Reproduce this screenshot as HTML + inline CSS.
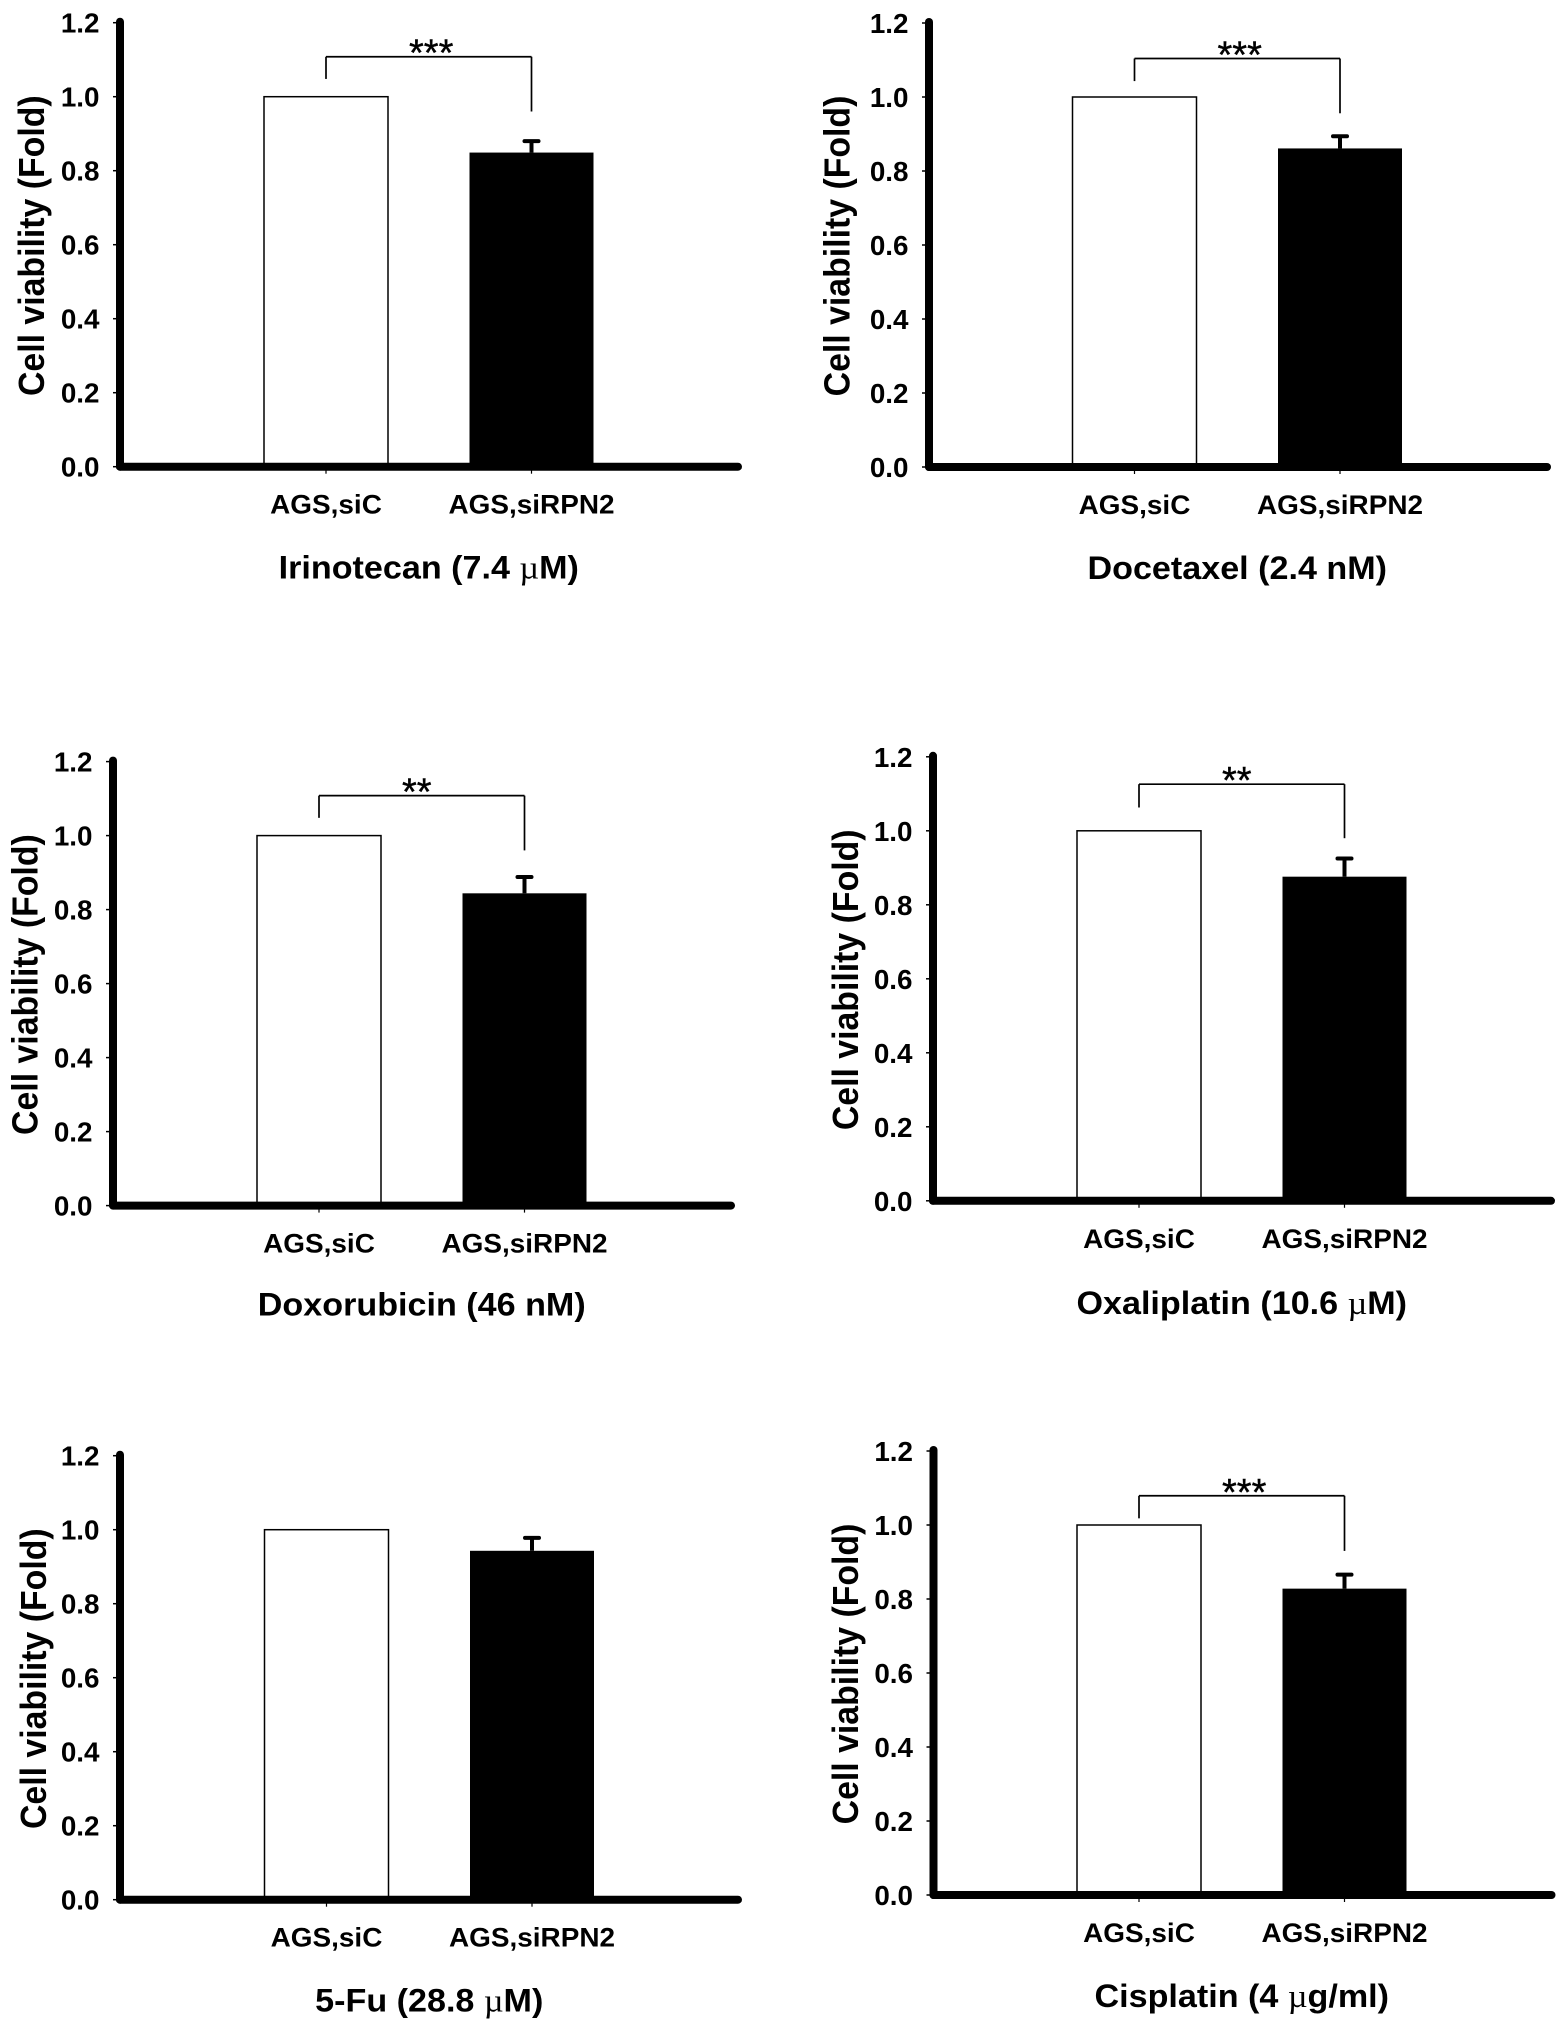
<!DOCTYPE html>
<html lang="en">
<head>
<meta charset="utf-8">
<title>Cell viability by drug treatment</title>
<style>
html,body{margin:0;padding:0;background:#fff;width:1567px;height:2031px;overflow:hidden}
svg{display:block}
text{font-family:"Liberation Sans",sans-serif;fill:#000}
</style>
</head>
<body>
<svg id="figure" xmlns="http://www.w3.org/2000/svg" width="1567" height="2031" viewBox="0 0 1567 2031"></svg>
<script>
var categories = ['AGS,siC', 'AGS,siRPN2'];
var drugNames = ['Irinotecan (7.4 ', 'Docetaxel (2.4 nM)', 'Doxorubicin (46 nM)', 'Oxaliplatin (10.6 ', '5-Fu (28.8 ', 'Cisplatin (4 '];
var drugUnits = ['M)', '', '', 'M)', 'M)', 'g/ml)'];
var controlValues = [1, 1, 1, 1, 1, 1];
var treatedValues = [0.849, 0.861, 0.844, 0.876, 0.943, 0.828];
var treatedErrors = [0.031, 0.033, 0.044, 0.049, 0.035, 0.038];
var significance = ['***', '***', '**', '**', '', '***'];
var bracketTopValues = [1.108, 1.104, 1.108, 1.126, 0, 1.079];
var bracketLeftValues = [1.048, 1.043, 1.048, 1.063, 0, 1.018];
var bracketRightValues = [0.96, 0.956, 0.96, 0.98, 0, 0.93];
var tickValues = [0, 0.2, 0.4, 0.6, 0.8, 1.0, 1.2];
var tickLabels = ['0.0', '0.2', '0.4', '0.6', '0.8', '1.0', '1.2'];

var panelAxisX = [120, 929, 113, 933, 120, 933.5];
var panelBaseY = [466.7, 467, 1205.6, 1200.8, 1899.7, 1895];
var panelFirstBarX = [326, 1134.5, 319, 1139, 326.5, 1139];
var panelYLabelOffset = [76, 79.5, 75.5, 75, 74, 75.5];
var panelTitleOffset = [112, 112, 110, 113, 112, 112];
var pixelsPerUnit = 370;
var barSpacing = 205.5;
var barWidth = 124;

var svg = document.getElementById('figure');
var NS = 'http://www.w3.org/2000/svg';

function make(tag, parent) {
  var el = document.createElementNS(NS, tag);
  parent.appendChild(el);
  return el;
}
function place(el, x1, y1, x2, y2, width) {
  el.setAttribute('x1', x1);
  el.setAttribute('y1', y1);
  el.setAttribute('x2', x2);
  el.setAttribute('y2', y2);
  el.setAttribute('stroke', '#000');
  el.setAttribute('stroke-width', width);
}

drugNames.forEach(function (name, p) {
  var axisX = panelAxisX[p];
  var baseY = panelBaseY[p];
  function yScale(v) { return baseY - v * pixelsPerUnit; }
  function xScale(c) { return panelFirstBarX[p] + c * barSpacing; }

  var g = make('g', svg);
  
  

  var controlTop = yScale(controlValues[p]);
  var controlBar = make('rect', g);
  
  
  controlBar.setAttribute('x', xScale(0) - barWidth / 2);
  controlBar.setAttribute('y', controlTop);
  controlBar.setAttribute('width', barWidth);
  controlBar.setAttribute('height', baseY - controlTop);
  controlBar.setAttribute('fill', '#fff');
  controlBar.setAttribute('stroke', '#000');
  controlBar.setAttribute('stroke-width', 1.5);

  var treatedTop = yScale(treatedValues[p]);
  var treatedBar = make('rect', g);
  
  
  treatedBar.setAttribute('x', xScale(1) - barWidth / 2);
  treatedBar.setAttribute('y', treatedTop);
  treatedBar.setAttribute('width', barWidth);
  treatedBar.setAttribute('height', baseY - treatedTop);
  treatedBar.setAttribute('fill', '#000');

  var errorTop = yScale(treatedValues[p] + treatedErrors[p]);
  var errorStem = make('line', g);
  
  
  place(errorStem, xScale(1), treatedTop, xScale(1), errorTop, 4);
  var errorCap = make('line', g);
  
  
  place(errorCap, xScale(1) - 7, errorTop, xScale(1) + 7, errorTop, 4);
  errorCap.setAttribute('stroke-linecap', 'round');

  var yAxis = make('line', g);
  
  
  place(yAxis, axisX, yScale(1.2) - 1, axisX, baseY, 8);
  yAxis.setAttribute('stroke-linecap', 'round');
  var xAxis = make('line', g);
  
  
  place(xAxis, axisX, baseY, axisX + 618, baseY, 8);
  xAxis.setAttribute('stroke-linecap', 'round');

  tickValues.forEach(function (v, i) {
    var tick = make('line', g);
    
    
    place(tick, axisX - 7, yScale(v), axisX, yScale(v), 1.5);
    var label = make('text', g);
    
    
    label.setAttribute('x', axisX - 20.5);
    label.setAttribute('y', yScale(v) + 10);
    label.setAttribute('text-anchor', 'end');
    label.setAttribute('font-weight', 'bold');
    label.setAttribute('font-size', '27.8');
    label.textContent = tickLabels[i];
  });

  categories.forEach(function (c, i) {
    var tick = make('line', g);
    
    
    place(tick, xScale(i), baseY, xScale(i), baseY + 7, 1.2);
    var label = make('text', g);
    
    
    label.setAttribute('transform', 'translate(' + xScale(i) + ',' + (baseY + 47) + ') scale(1.05,1)');
    label.setAttribute('text-anchor', 'middle');
    label.setAttribute('font-weight', 'bold');
    label.setAttribute('font-size', '26.6');
    label.textContent = c;
  });

  var yTitle = make('text', g);
  
  
  yTitle.setAttribute('transform', 'translate(' + (axisX - panelYLabelOffset[p]) + ',' + (baseY - 221) + ') rotate(-90) scale(0.94,1)');
  yTitle.setAttribute('text-anchor', 'middle');
  yTitle.setAttribute('font-weight', 'bold');
  yTitle.setAttribute('font-size', '36');
  yTitle.textContent = 'Cell viability (Fold)';

  var title = make('text', g);
  
  
  title.setAttribute('transform', 'translate(' + (xScale(0.5)) + ',' + (baseY + panelTitleOffset[p]) + ') scale(1.05,1)');
  title.setAttribute('text-anchor', 'middle');
  title.setAttribute('font-weight', 'bold');
  title.setAttribute('font-size', '32.5');
  title.appendChild(document.createTextNode(name));
  if (drugUnits[p]) {
    var micro = make('tspan', title);
    
    
    micro.setAttribute('style', 'font-family:"Liberation Serif",serif;font-weight:normal');
    micro.textContent = '\u00b5';
    title.appendChild(document.createTextNode(drugUnits[p]));
  }

  if (significance[p]) {
    var top = yScale(bracketTopValues[p]);
    var span = make('line', g);
    
    
    place(span, xScale(0), top, xScale(1), top, 1.7);
    var left = make('line', g);
    
    
    place(left, xScale(0), top, xScale(0), yScale(bracketLeftValues[p]), 1.7);
    var right = make('line', g);
    
    
    place(right, xScale(1), top, xScale(1), yScale(bracketRightValues[p]), 1.7);
    var stars = make('text', g);
    
    
    stars.setAttribute('x', xScale(0) + 83);
    stars.setAttribute('y', top + 9);
    stars.setAttribute('font-size', '38');
    stars.setAttribute('stroke', '#000');
    stars.setAttribute('stroke-width', '0.4');
    stars.textContent = significance[p];
  }
});
</script>
</body>
</html>
